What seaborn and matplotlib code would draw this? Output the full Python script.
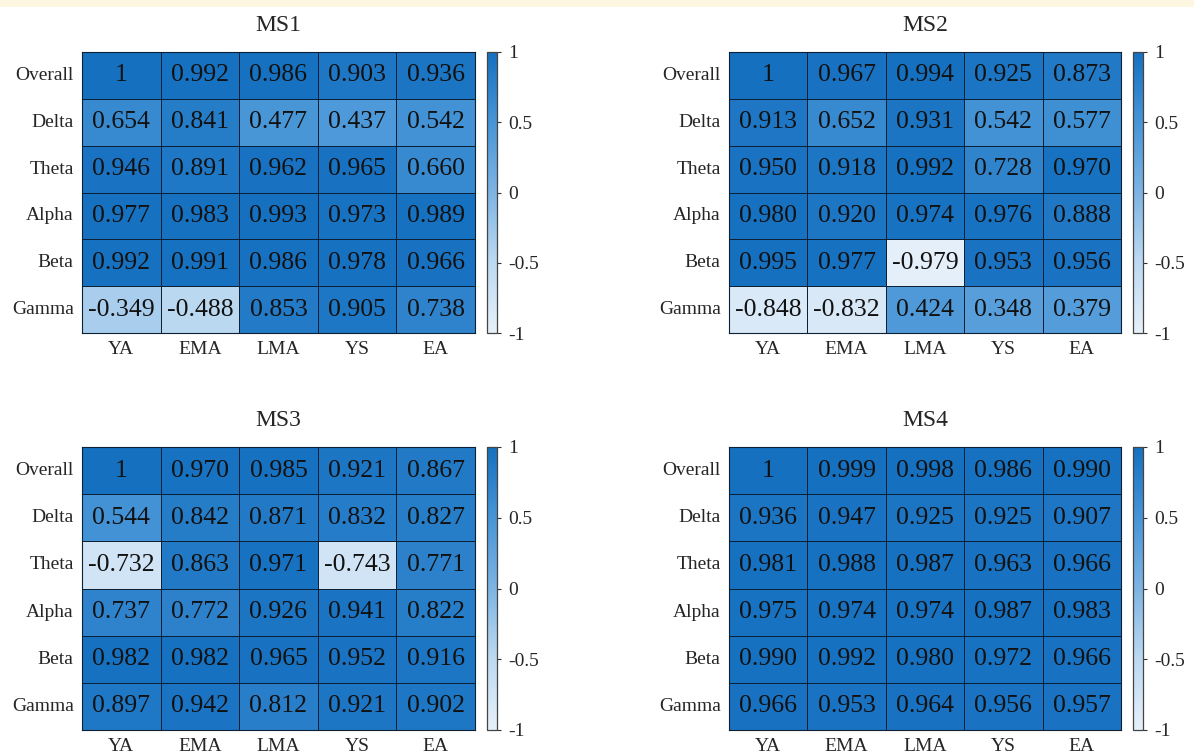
import numpy as np
import pandas as pd
import matplotlib
matplotlib.use("Agg")
import matplotlib.pyplot as plt
from matplotlib.colors import LinearSegmentedColormap
from matplotlib.patches import Rectangle
import seaborn as sns

sns.set_theme(style="white")
plt.rcParams["font.family"] = ["Liberation Serif", "DejaVu Serif"]
plt.rcParams["axes.unicode_minus"] = False

bands = ["Overall", "Delta", "Theta", "Alpha", "Beta", "Gamma"]
groups = ["YA", "EMA", "LMA", "YS", "EA"]

ms1 = [
    [1.000, 0.992, 0.986, 0.903, 0.936],
    [0.654, 0.841, 0.477, 0.437, 0.542],
    [0.946, 0.891, 0.962, 0.965, 0.660],
    [0.977, 0.983, 0.993, 0.973, 0.989],
    [0.992, 0.991, 0.986, 0.978, 0.966],
    [-0.349, -0.488, 0.853, 0.905, 0.738],
]
ms2 = [
    [1.000, 0.967, 0.994, 0.925, 0.873],
    [0.913, 0.652, 0.931, 0.542, 0.577],
    [0.950, 0.918, 0.992, 0.728, 0.970],
    [0.980, 0.920, 0.974, 0.976, 0.888],
    [0.995, 0.977, -0.979, 0.953, 0.956],
    [-0.848, -0.832, 0.424, 0.348, 0.379],
]
ms3 = [
    [1.000, 0.970, 0.985, 0.921, 0.867],
    [0.544, 0.842, 0.871, 0.832, 0.827],
    [-0.732, 0.863, 0.971, -0.743, 0.771],
    [0.737, 0.772, 0.926, 0.941, 0.822],
    [0.982, 0.982, 0.965, 0.952, 0.916],
    [0.897, 0.942, 0.812, 0.921, 0.902],
]
ms4 = [
    [1.000, 0.999, 0.998, 0.986, 0.990],
    [0.936, 0.947, 0.925, 0.925, 0.907],
    [0.981, 0.988, 0.987, 0.963, 0.966],
    [0.975, 0.974, 0.974, 0.987, 0.983],
    [0.990, 0.992, 0.980, 0.972, 0.966],
    [0.966, 0.953, 0.964, 0.956, 0.957],
]
titles = ["MS1", "MS2", "MS3", "MS4"]
cbar_ticks = [1, 0.5, 0, -0.5, -1]
cbar_labels = ["1", "0.5", "0", "-0.5", "-1"]

cmap = LinearSegmentedColormap.from_list(
    "corr_blues",
    [(0.0, "#e6f0f9"), (0.25, "#bcd9f1"), (0.5, "#7db4e3"),
     (0.75, "#4795d7"), (1.0, "#1570c0")],
)


def fmt(v):
    return "1" if v == 1 else f"{v:.3f}"


W, H = 1194, 754
fig = plt.figure(figsize=(W / 100, H / 100), dpi=100)
fig.patch.set_facecolor("white")
fig.patches.append(Rectangle((0, 1 - 7 / H), 1, 7 / H, transform=fig.transFigure,
                             facecolor="#fdf6e0", edgecolor="none", zorder=0))

# pixel boxes: (left, top, right, bottom) for heatmap; colorbar x range
layout = [
    ((82, 52, 475, 333), (487, 497)),
    ((729, 52, 1121, 333), (1133, 1143)),
    ((82, 447, 475, 730), (487, 497)),
    ((729, 447, 1121, 730), (1133, 1143)),
]

for data, title, ((l, t, r, b), (cl, cr)) in zip([ms1, ms2, ms3, ms4], titles, layout):
    ax = fig.add_axes([l / W, 1 - b / H, (r - l) / W, (b - t) / H])
    cax = fig.add_axes([cl / W, 1 - b / H, (cr - cl) / W, (b - t) / H])
    df = pd.DataFrame(data, index=bands, columns=groups)
    labels = np.vectorize(fmt)(df.values)
    sns.heatmap(df, ax=ax, cbar_ax=cax, cmap=cmap, vmin=-1, vmax=1,
                annot=labels, fmt="", linewidths=0.6, linecolor="#0e2033",
                annot_kws={"fontsize": 18.5, "color": "#111111"},
                cbar_kws={"ticks": cbar_ticks})
    for sp in ax.spines.values():
        sp.set_visible(True)
        sp.set_color("#0e2033")
        sp.set_linewidth(0.8)
    ax.set_title(title, fontsize=17, pad=15)
    ax.set_xlabel("")
    ax.set_ylabel("")
    ax.tick_params(axis="both", length=0, labelsize=14)
    ax.tick_params(axis="x", pad=6)
    ax.tick_params(axis="y", pad=6)
    ax.set_yticklabels(bands, rotation=0)
    ax.set_xticklabels(groups, rotation=0)

    cax.set_yticklabels(cbar_labels)
    cax.tick_params(axis="y", length=3, width=0.8, labelsize=14, pad=5,
                    direction="out", color="#333333")
    cb = ax.collections[0].colorbar
    cb.outline.set_edgecolor("#444444")
    cb.outline.set_linewidth(0.9)
    cb.outline.set_visible(True)

fig.savefig("out.png", dpi=100)
